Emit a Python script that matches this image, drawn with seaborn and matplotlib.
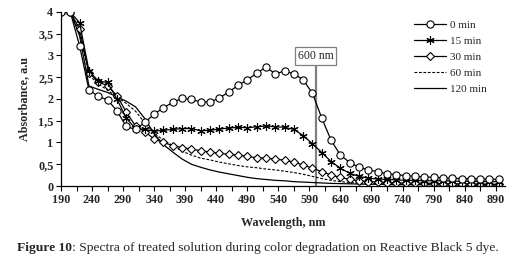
import numpy as np
import pandas as pd
import matplotlib
matplotlib.use("Agg")
import matplotlib.pyplot as plt
import seaborn as sns

# ---------------- data ----------------
wavelength = [190, 205, 220, 235, 250, 265, 280, 295, 310, 325, 340, 355, 370, 385, 400, 415,
              430, 445, 460, 475, 490, 505, 520, 535, 550, 565, 580, 595, 610, 625, 640, 655,
              670, 685, 700, 715, 730, 745, 760, 775, 790, 805, 820, 835, 850, 865, 880, 895]

abs_0min = [4.0, 4.0, 3.22, 2.21, 2.06, 1.98, 1.73, 1.37, 1.30, 1.46, 1.65, 1.80, 1.92, 2.02, 1.99, 1.93,
            1.93, 2.02, 2.16, 2.31, 2.44, 2.59, 2.73, 2.58, 2.64, 2.58, 2.44, 2.13, 1.56, 1.05, 0.71, 0.54,
            0.43, 0.37, 0.33, 0.28, 0.26, 0.24, 0.22, 0.21, 0.20, 0.19, 0.18, 0.17, 0.17, 0.16, 0.16, 0.15]

abs_15min = [4.0, 4.0, 3.75, 2.65, 2.41, 2.38, 2.00, 1.56, 1.32, 1.30, 1.26, 1.28, 1.30, 1.32, 1.32, 1.27,
             1.28, 1.31, 1.33, 1.35, 1.34, 1.36, 1.38, 1.36, 1.35, 1.30, 1.16, 0.97, 0.77, 0.56, 0.41, 0.29,
             0.22, 0.18, 0.16, 0.15, 0.14, 0.13, 0.13, 0.12, 0.12, 0.12, 0.11, 0.11, 0.11, 0.10, 0.10, 0.10]

abs_30min = [4.0, 4.0, 3.60, 2.60, 2.40, 2.30, 2.08, 1.70, 1.38, 1.25, 1.08, 1.00, 0.93, 0.88, 0.85, 0.81,
             0.78, 0.75, 0.73, 0.71, 0.68, 0.65, 0.64, 0.62, 0.59, 0.55, 0.48, 0.41, 0.33, 0.25, 0.20, 0.15,
             0.12, 0.10, 0.09, 0.08, 0.07, 0.07, 0.06, 0.06, 0.06, 0.05, 0.05, 0.05, 0.05, 0.04, 0.04, 0.04]

abs_60min = [4.0, 4.0, 3.50, 2.55, 2.35, 2.20, 2.05, 1.90, 1.72, 1.45, 1.22, 1.05, 0.93, 0.80, 0.71, 0.64,
             0.60, 0.55, 0.51, 0.47, 0.44, 0.42, 0.39, 0.37, 0.34, 0.31, 0.27, 0.22, 0.17, 0.13, 0.10, 0.08,
             0.07, 0.06, 0.05, 0.05, 0.04, 0.04, 0.04, 0.04, 0.03, 0.03, 0.03, 0.03, 0.03, 0.03, 0.03, 0.03]

abs_120min = [4.0, 4.0, 3.45, 2.30, 2.22, 2.15, 2.05, 1.95, 1.82, 1.55, 1.20, 0.95, 0.78, 0.62, 0.50, 0.43,
              0.37, 0.32, 0.28, 0.24, 0.20, 0.17, 0.15, 0.13, 0.12, 0.10, 0.09, 0.08, 0.07, 0.06, 0.055, 0.05,
              0.045, 0.04, 0.04, 0.035, 0.03, 0.03, 0.03, 0.03, 0.025, 0.025, 0.02, 0.02, 0.02, 0.02, 0.02, 0.02]

series_names = ["0 min", "15 min", "30 min", "60 min", "120 min"]
x_ticks = list(range(190, 891, 50))
y_ticks = [0, 0.5, 1, 1.5, 2, 2.5, 3, 3.5, 4]
y_tick_labels = ["0", "0,5", "1", "1,5", "2", "2,5", "3", "3,5", "4"]
marker_nm = 600
marker_label = "600 nm"

# ---------------- figure ----------------
sns.set_theme(style="white")
plt.rcParams['font.family'] = ['Liberation Serif', 'DejaVu Serif']

fig = plt.figure(figsize=(5.19, 2.60), dpi=100)
ax = fig.add_axes([0.1175, 0.2846, 0.973 - 0.1175, 0.954 - 0.2846])

frames = []
for name, vals in zip(series_names, [abs_0min, abs_15min, abs_30min, abs_60min, abs_120min]):
    frames.append(pd.DataFrame({"wl": wavelength, "A": vals, "series": name}))
df = pd.concat(frames, ignore_index=True)

styles = {
    "0 min":   dict(color="black", lw=0.9, marker="o", ms=5.2, mfc="white", mec="black", mew=0.8, ls="-"),
    "15 min":  dict(color="black", lw=0.9, marker=(6, 2, 0), ms=6, mfc="black", mec="black", mew=0.8, ls="-"),
    "30 min":  dict(color="black", lw=0.9, marker="D", ms=3.6, mfc="white", mec="black", mew=0.8, ls="-"),
    "60 min":  dict(color="black", lw=0.8, marker=None, ls=(0, (2.5, 1.5))),
    "120 min": dict(color="black", lw=0.9, marker=None, ls="-"),
}

# draw lower series first so markers of 0 min are on top
for name in ["120 min", "60 min", "30 min", "15 min", "0 min"]:
    st = styles[name]
    sub = df[df["series"] == name]
    kw = dict(color=st["color"], linewidth=st["lw"], linestyle=st["ls"])
    if st.get("marker") is not None:
        kw.update(marker=st["marker"], markersize=st["ms"], markerfacecolor=st["mfc"],
                  markeredgecolor=st["mec"], markeredgewidth=st["mew"])
    sns.lineplot(data=sub, x="wl", y="A", ax=ax, label=name, estimator=None, sort=False, **kw)

# 600 nm marker line and label box
top_frac = 2.81 / 4.0
ax.axvline(marker_nm, ymin=0, ymax=top_frac, color="#808080", lw=1.6, zorder=1)
ax.text(marker_nm, 2.99, marker_label, ha="center", va="center", fontsize=8.5,
        bbox=dict(boxstyle="square,pad=0.25", fc="white", ec="#808080", lw=0.9))

ax.set_xlim(190, 905)
ax.set_ylim(0, 4)
minor = list(range(190, 906, 25))
ax.set_xticks(minor)
ax.set_xticklabels([str(t) if t in x_ticks else "" for t in minor])
ax.set_yticks(y_ticks)
ax.set_yticklabels(y_tick_labels)
for lab in ax.get_xticklabels() + ax.get_yticklabels():
    lab.set_fontweight("bold")
    lab.set_fontsize(8.7)
ax.tick_params(axis="both", which="both", direction="out", length=3.5, width=0.8,
               color="black", pad=2, bottom=True, left=True)
for s in ["top", "right"]:
    ax.spines[s].set_visible(False)
for s in ["left", "bottom"]:
    ax.spines[s].set_color("black")
    ax.spines[s].set_linewidth(0.9)

ax.set_xlabel("Wavelength, nm", fontsize=8.7, fontweight="bold", labelpad=8)
ax.set_ylabel("Absorbance, a.u", fontsize=8.7, fontweight="bold", labelpad=6)

# legend in original order
handles, labels = ax.get_legend_handles_labels()
order = [labels.index(n) for n in series_names]
leg = ax.legend([handles[i] for i in order], [labels[i] for i in order],
                loc="upper right", bbox_to_anchor=(0.975, 0.99), frameon=False,
                fontsize=8, handlelength=2.9, handletextpad=0.4, labelspacing=0.55,
                borderaxespad=0.2)

# caption
fig.canvas.draw()
t1 = fig.text(17 / 519, 1 - 248 / 260, "Figure 10", fontsize=9.7, fontweight="bold", va="center", ha="left")
fig.canvas.draw()
bb = t1.get_window_extent()
fig.text(bb.x1 / fig.bbox.width, 1 - 248 / 260,
         ": Spectra of treated solution during color degradation on Reactive Black 5 dye.",
         fontsize=9.7, va="center", ha="left")

fig.savefig("out.png", dpi=100)
